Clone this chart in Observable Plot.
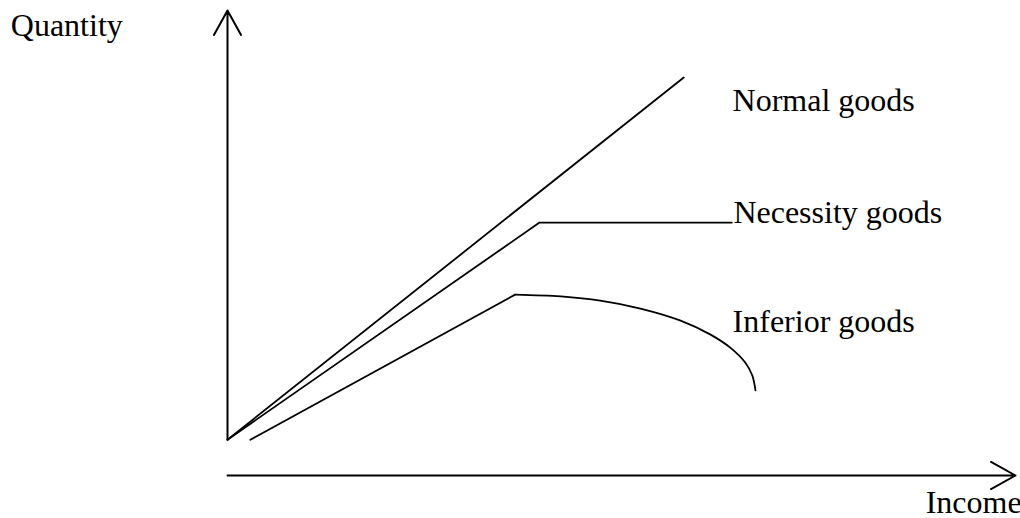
<!DOCTYPE html>
<html>
<head>
<meta charset="utf-8">
<script src="https://cdn.jsdelivr.net/npm/d3@7"></script>
<script src="https://cdn.jsdelivr.net/npm/@observablehq/plot@0.6"></script>
<style>
  html, body { margin: 0; padding: 0; background: #fff; }
  #chart svg { display: block; background: #fff; overflow: visible; }
</style>
</head>
<body>
<div id="chart"></div>
<script>
// Categories (curve labels)
const categories = ["Normal goods", "Necessity goods", "Inferior goods"];

// Series values (abstract income / quantity units)
const normalIncome = [0, 57.9];
const normalQuantity = [7.7, 85.6];

const necessityIncome = [0, 39.6, 64.0];
const necessityQuantity = [7.7, 54.4, 54.4];

const inferiorRiseIncome = [2.9, 36.5];
const inferiorRiseQuantity = [7.7, 38.9];

const inferiorFallIncome = [36.5, 42.3, 47.3, 52.4, 57.5, 61.3, 63.8, 65.7, 66.6, 67.0];
const inferiorFallQuantity = [38.9, 38.5, 37.6, 35.9, 33.3, 30.3, 27.5, 24.3, 21.5, 18.3];

// Axis labels
const axisLabels = ["Quantity", "Income"];

// Label anchor positions in data units
const labelIncome = [64.1, 64.2, 64.1];
const labelQuantity = [80.6, 56.6, 33.1];
const axisLabelIncome = [-27.5, 88.6];
const axisLabelQuantity = [96.8, -5.8];

// Axis arrows in data units
const axisStart = [{x: 0, y: 7.7}, {x: 0, y: 0}];
const axisEnd = [{x: 0, y: 100}, {x: 100, y: 0}];

const toPoints = (xs, ys) => xs.map((x, i) => ({x, y: ys[i]}));

const normal = toPoints(normalIncome, normalQuantity);
const necessity = toPoints(necessityIncome, necessityQuantity);
const inferiorRise = toPoints(inferiorRiseIncome, inferiorRiseQuantity);
const inferiorFall = toPoints(inferiorFallIncome, inferiorFallQuantity);

const labels = categories.map((t, i) => ({t, x: labelIncome[i], y: labelQuantity[i]}));
const axisText = axisLabels.map((t, i) => ({t, x: axisLabelIncome[i], y: axisLabelQuantity[i]}));
const arrows = axisStart.map((s, i) => ({x1: s.x, y1: s.y, x2: axisEnd[i].x, y2: axisEnd[i].y}));

const font = "'Liberation Serif', 'Times New Roman', serif";

const chart = Plot.plot({
  width: 1020,
  height: 518,
  marginLeft: 227,
  marginRight: 5,
  marginTop: 10,
  marginBottom: 43,
  x: {domain: [0, 100], axis: null},
  y: {domain: [0, 100], axis: null},
  style: {background: "#fff", fontFamily: font},
  marks: [
    Plot.arrow(arrows, {x1: "x1", y1: "y1", x2: "x2", y2: "y2", stroke: "#000", strokeWidth: 2, headLength: 21, headAngle: 58}),
    Plot.line(normal, {x: "x", y: "y", stroke: "#000", strokeWidth: 1.8}),
    Plot.line(necessity, {x: "x", y: "y", stroke: "#000", strokeWidth: 1.8}),
    Plot.line(inferiorRise, {x: "x", y: "y", stroke: "#000", strokeWidth: 1.8}),
    Plot.line(inferiorFall, {x: "x", y: "y", stroke: "#000", strokeWidth: 1.8, curve: "catmull-rom"}),
    Plot.text(labels, {x: "x", y: "y", text: "t", textAnchor: "start", lineAnchor: "middle", fontSize: 32, fill: "#000", fontFamily: font}),
    Plot.text(axisText, {x: "x", y: "y", text: "t", textAnchor: "start", lineAnchor: "middle", fontSize: 32, fill: "#000", fontFamily: font})
  ]
});

document.getElementById("chart").appendChild(chart);
</script>
</body>
</html>
